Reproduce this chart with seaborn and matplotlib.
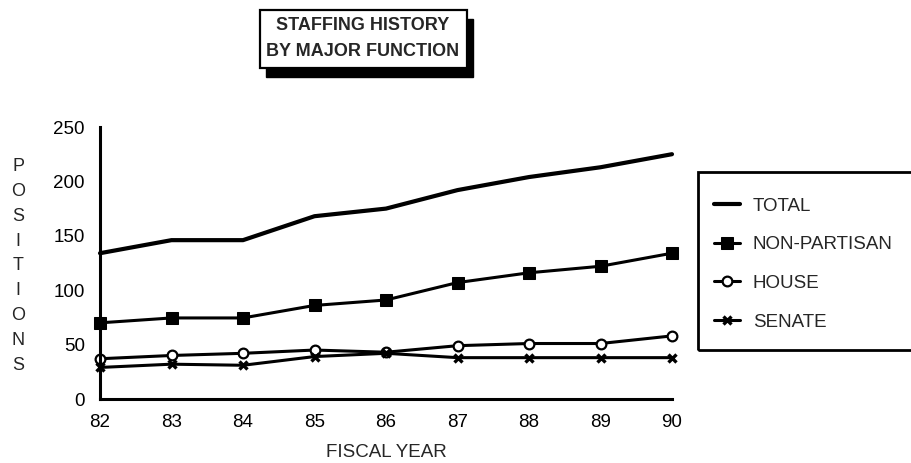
import matplotlib
matplotlib.use("Agg")
import matplotlib.pyplot as plt
import seaborn as sns
import pandas as pd
from matplotlib.patches import Rectangle

# Staffing positions by fiscal year
years = [82, 83, 84, 85, 86, 87, 88, 89, 90]
total = [134, 146, 146, 168, 175, 192, 204, 213, 225]
non_partisan = [70, 74.5, 74.5, 86, 91, 107, 116, 122, 134]
house = [37, 40, 42, 45, 43, 49, 51, 51, 58]
senate = [29, 32, 31, 39, 42, 38, 38, 38, 38]

series_names = ["TOTAL", "NON-PARTISAN", "HOUSE", "SENATE"]
y_ticks = [0, 50, 100, 150, 200, 250]

sns.set_theme(style="white")
plt.rcParams["font.family"] = ["Liberation Sans", "DejaVu Sans"]

W, H = 911, 463
fig = plt.figure(figsize=(W / 100, H / 100), dpi=100)
fig.patch.set_facecolor("white")
ax = fig.add_axes([100 / W, 1 - 399 / H, 572 / W, 272 / H])

df = pd.DataFrame({"year": years, "TOTAL": total, "NON-PARTISAN": non_partisan,
                   "HOUSE": house, "SENATE": senate})

styles = {
    "TOTAL": dict(linewidth=3.0),
    "NON-PARTISAN": dict(linewidth=2.2, marker="s", markersize=8,
                         markerfacecolor="black", markeredgecolor="black"),
    "HOUSE": dict(linewidth=2.2, marker="o", markersize=7,
                  markerfacecolor="white", markeredgecolor="black", markeredgewidth=1.6),
    "SENATE": dict(linewidth=2.2, marker="x", markersize=6,
                   markeredgecolor="black", markeredgewidth=2.4),
}
for name in series_names:
    sns.lineplot(data=df, x="year", y=name, ax=ax, color="black", label=name,
                 clip_on=False, **styles[name])

ax.set_xlim(82, 90)
ax.set_ylim(0, 250)
ax.set_xticks(years)
ax.set_xticklabels([str(y) for y in years])
ax.set_yticks(y_ticks)
ax.set_yticklabels([str(v) for v in y_ticks])
ax.tick_params(axis="both", direction="inout", length=6, width=1.5, colors="black",
               labelsize=13.5, pad=8)

sns.despine(ax=ax)
for side in ("left", "bottom"):
    ax.spines[side].set_linewidth(2.2)
    ax.spines[side].set_color("black")

ax.set_xlabel("FISCAL YEAR", fontsize=13.5, labelpad=9)
ax.set_ylabel("")

# vertical stacked axis title
fig.text(18 / W, 1 - 266 / H, "\n".join("POSITIONS"), ha="center", va="center",
         fontsize=13, linespacing=1.6)

# legend panel with frame running off the right edge
fig.add_artist(Rectangle((698 / W, 1 - 350 / H), 230 / W, 178 / H,
                         transform=fig.transFigure, facecolor="none",
                         edgecolor="black", linewidth=2, clip_on=False))
handles, labels = ax.get_legend_handles_labels()
leg = ax.legend(handles, labels, frameon=False, loc="upper left",
                bbox_to_anchor=(706 / W, 1 - 190 / H), bbox_transform=fig.transFigure,
                fontsize=13.5, handlelength=1.4, handletextpad=0.7, labelspacing=1.15,
                borderaxespad=0)

# title box with drop shadow
bx0, by0, bx1, by1 = 260, 10, 467, 68
fig.add_artist(Rectangle(((bx0 + 6) / W, 1 - (by1 + 9) / H), (bx1 - bx0) / W, (by1 - by0) / H,
                         transform=fig.transFigure, facecolor="black", edgecolor="black"))
fig.add_artist(Rectangle((bx0 / W, 1 - by1 / H), (bx1 - bx0) / W, (by1 - by0) / H,
                         transform=fig.transFigure, facecolor="white", edgecolor="black",
                         linewidth=1.6))
fig.text(363 / W, 1 - 25 / H, "STAFFING HISTORY", ha="center", va="center",
         fontsize=13, fontweight="bold")
fig.text(363 / W, 1 - 51 / H, "BY MAJOR FUNCTION", ha="center", va="center",
         fontsize=13, fontweight="bold")

fig.savefig("out.png", dpi=100)
